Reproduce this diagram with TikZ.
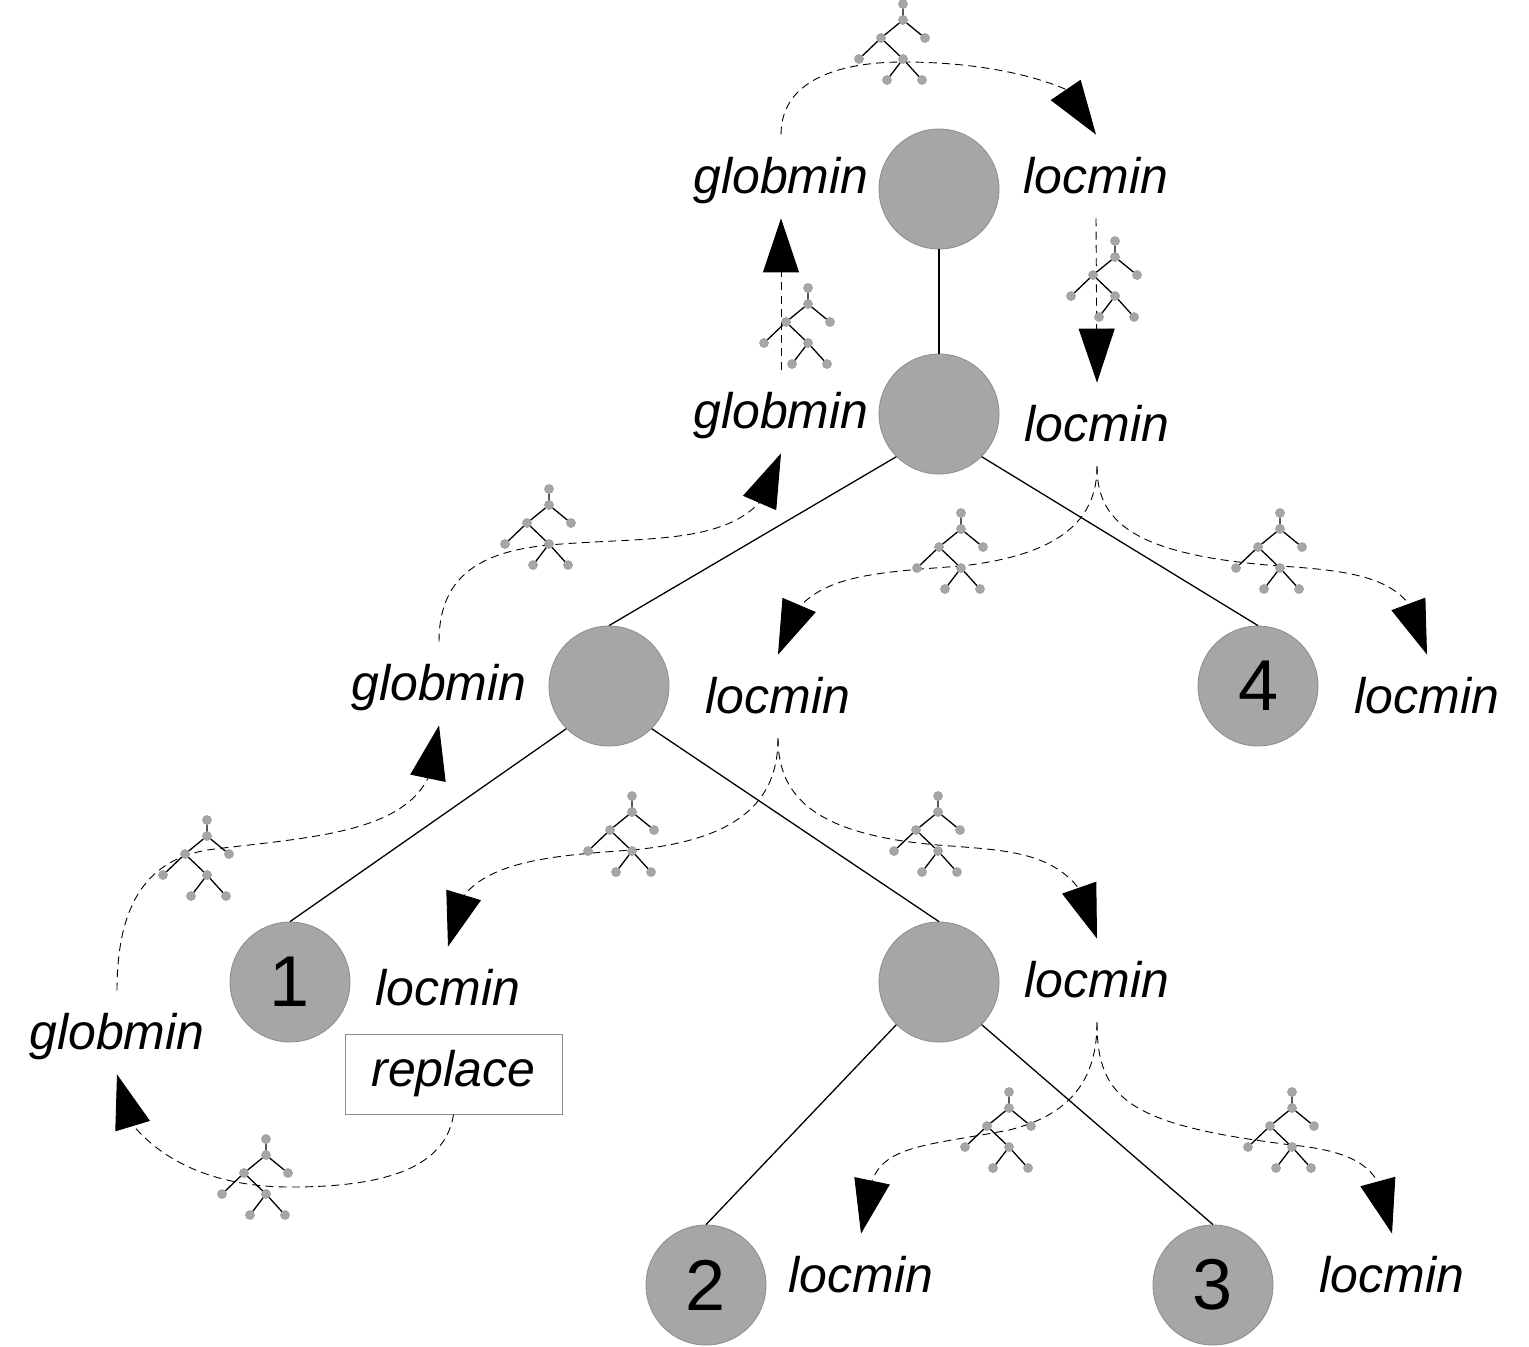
\documentclass[tikz,border=0pt]{standalone}
\usepackage{fontspec}
\setmainfont{Liberation Sans}
\usetikzlibrary{arrows.meta}
\definecolor{nodegrey}{HTML}{A6A6A6}
\definecolor{rimgrey}{HTML}{8C8C8C}
\tikzset{
  bignode/.style={circle,fill=nodegrey,draw=rimgrey,line width=.4pt,minimum size=60pt,inner sep=0pt,font=\fontsize{36}{40}\selectfont},
  tag/.style={anchor=base,inner sep=0pt,text height=29pt,text depth=12.5pt,font=\fontsize{25}{30}\selectfont\itshape},
  treeedge/.style={line width=.65pt,black},
  dot/.style={circle,fill=nodegrey,draw=rimgrey,line width=.15pt,minimum size=4.6pt,inner sep=0pt},
  flow/.style={densely dashed,dash pattern=on 4pt off 2.6pt,line width=.45pt,-{Triangle[length=27pt,width=18pt]}},
  mainedge/.style={line width=.65pt,black},
  minitree/.pic={
    \node[dot] (-a) at (0,0) {};
    \node[dot] (-b) at (0,16) {};
    \node[dot] (-c) at (-22,34) {};
    \node[dot] (-d) at (22,34) {};
    \node[dot] (-e) at (-44,55) {};
    \node[dot] (-f) at (0,55) {};
    \node[dot] (-g) at (-16,76) {};
    \node[dot] (-h) at (19,76) {};
    \draw[treeedge] (-a)--(-b) (-b)--(-c) (-b)--(-d) (-c)--(-e) (-c)--(-f) (-f)--(-g) (-f)--(-h);
  }
}
\begin{document}
\begin{tikzpicture}[x=.5pt,y=-.5pt]
\useasboundingbox (0,0) rectangle (1529,1346);
% big nodes
\node[bignode] (n1) at (939,189) {};
\node[bignode] (n2) at (939,414) {};
\node[bignode] (n3) at (609,686) {};
\node[bignode] (n4) at (1258,686) {4};
\node[bignode] (n5) at (290,982) {1};
\node[bignode] (n6) at (939,982) {};
\node[bignode] (n7) at (706,1285) {2};
\node[bignode] (n8) at (1213,1285) {3};
\draw[mainedge] (n1)--(n2);
\draw[mainedge] (n2.south west)--(n3.north);
\draw[mainedge] (n2.south east)--(n4.north);
\draw[mainedge] (n3.south west)--(n5.north);
\draw[mainedge] (n3.south east)--(n6.north);
\draw[mainedge] (n6.south west)--(n7.north);
\draw[mainedge] (n6.south east)--(n8.north);
% labels
\node[tag] (g1) at (781,193) {globmin};
\node[tag] (g2) at (781,428) {globmin};
\node[tag] (g3) at (439,700) {globmin};
\node[tag] (g4) at (117,1049) {globmin};
\node[tag] (l1) at (1096,193) {locmin};
\node[tag] (l2) at (1097,441) {locmin};
\node[tag] (l3) at (778,713) {locmin};
\node[tag] (l4) at (1427,713) {locmin};
\node[tag] (l5) at (448,1005) {locmin};
\node[tag] (l6) at (1097,997) {locmin};
\node[tag] (l7) at (861,1292) {locmin};
\node[tag] (l8) at (1392,1292) {locmin};
\node[draw=rimgrey,line width=.5pt,minimum width=108.5pt,minimum height=40pt,inner sep=0pt,font=\fontsize{25}{30}\selectfont\itshape] (r) at (453.5,1074) {replace\hspace{3pt}};
% flows
\draw[flow] (g1.north) .. controls (781,75) and (850,62) .. (903,62) .. controls (960,62) and (1020,70) .. (1065,89) -- (l1.north);
\draw[flow] (g2.north) -- (g1.south);
\draw[flow] (l1.south) -- (l2.north);
\draw[flow] (g3.north) .. controls (439,580) and (475,552) .. (549,545) .. controls (640,537) and (720,545) .. (760,502) -- (g2.south);
\draw[flow] (l2.south) .. controls (1097,520) and (1060,555) .. (961,566) .. controls (880,572) and (825,575) .. (797,610) -- (l3.north);
\draw[flow] (l2.south) .. controls (1097,520) and (1130,555) .. (1280,566) .. controls (1340,570) and (1385,575) .. (1408,603) -- (l4.north);
\draw[flow] (g4.north) .. controls (117,900) and (150,860) .. (207,850) .. controls (300,838) and (400,835) .. (428,778) -- (g3.south);
\draw[flow] (l3.south) .. controls (778,800) and (740,840) .. (632,850) .. controls (560,855) and (490,860) .. (463,897) -- (l5.north);
\draw[flow] (l3.south) .. controls (778,800) and (820,835) .. (938,845) .. controls (1000,850) and (1050,850) .. (1080,890) -- (l6.north);
\draw[flow] (l6.south) .. controls (1097,1080) and (1070,1115) .. (1009,1130) .. controls (930,1145) and (885,1145) .. (872,1181) -- (l7.north);
\draw[flow] (l6.south) .. controls (1097,1100) and (1130,1125) .. (1292,1145) .. controls (1340,1150) and (1365,1160) .. (1378,1182) -- (l8.north);
\draw[flow] (r.south) .. controls (445,1170) and (380,1187) .. (290,1187) .. controls (230,1187) and (170,1170) .. (132,1124) -- (g4.south);
% mini trees
\pic (t1) at (903,4) {minitree};
\pic (t2) at (808,288) {minitree};
\pic (t3) at (1115,241) {minitree};
\pic (t4) at (549,489) {minitree};
\pic (t5) at (961,513) {minitree};
\pic (t6) at (1280,513) {minitree};
\pic (t7) at (207,820) {minitree};
\pic (t8) at (632,796) {minitree};
\pic (t9) at (938,796) {minitree};
\pic (t10) at (266,1139) {minitree};
\pic (t11) at (1009,1092) {minitree};
\pic (t12) at (1292,1092) {minitree};
\end{tikzpicture}
\end{document}
